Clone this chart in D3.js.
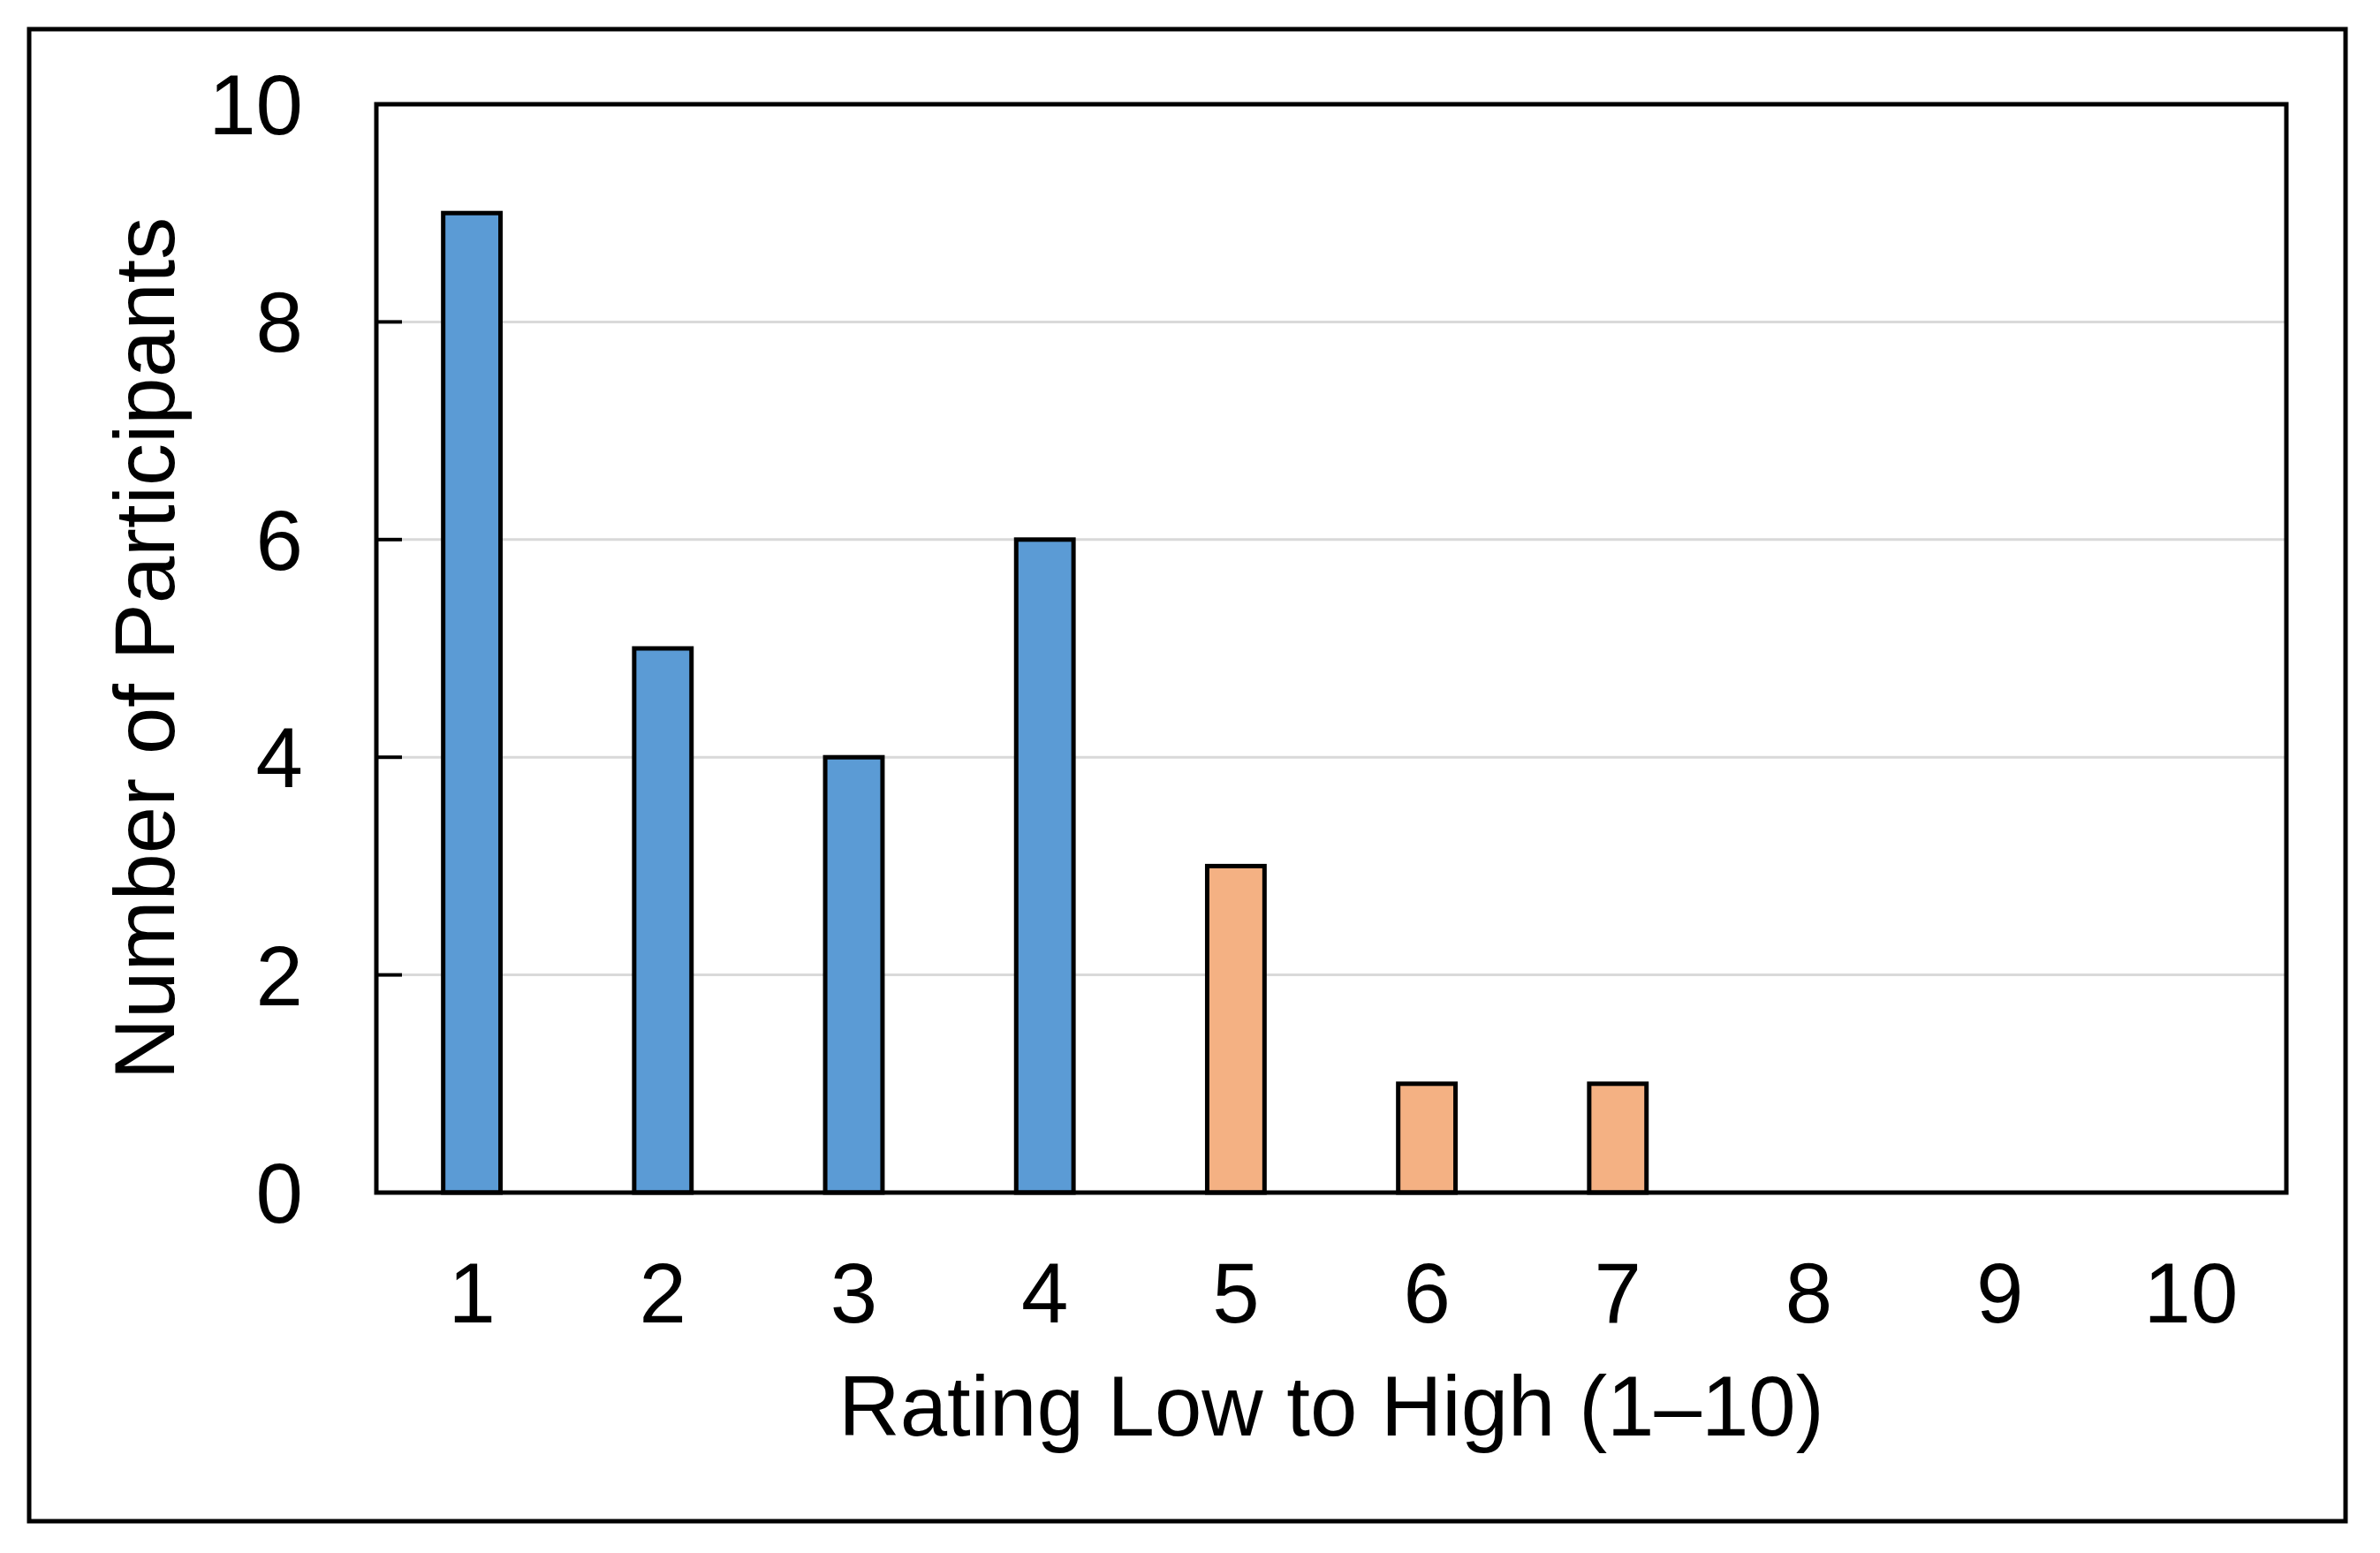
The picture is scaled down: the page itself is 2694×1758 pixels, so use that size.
<!DOCTYPE html>
<html>
<head>
<meta charset="utf-8">
<script src="https://cdn.jsdelivr.net/npm/d3@7"></script>
<style>
  html, body { margin: 0; padding: 0; background: #ffffff; }
  svg { display: block; }
  text { font-family: "Liberation Sans", Arial, sans-serif; fill: #000; }
</style>
</head>
<body>
<script>
// ---- Data ----
const categories = ["1", "2", "3", "4", "5", "6", "7", "8", "9", "10"];
const counts = [9, 5, 4, 6, 3, 1, 1, 0, 0, 0];
const groups = ["low", "low", "low", "low", "high", "high", "high", "high", "high", "high"];
const yTicks = [0, 2, 4, 6, 8, 10];
const xTitle = "Rating Low to High (1–10)";
const yTitle = "Number of Participants";

// ---- Layout ----
const W = 2694, H = 1758;
const plot = { left: 426, right: 2588, top: 118, bottom: 1350 };
const colors = { low: "#5B9BD5", high: "#F4B183" };
const fontSize = 96;

const svg = d3.select("body").append("svg").attr("width", W).attr("height", H);
svg.append("rect").attr("width", W).attr("height", H).attr("fill", "#fff");

// outer border
svg.append("rect")
  .attr("x", 33).attr("y", 33).attr("width", 2655 - 33).attr("height", 1722 - 33)
  .attr("fill", "none").attr("stroke", "#000").attr("stroke-width", 5);

const x = d3.scaleBand().domain(categories)
  .range([plot.left, plot.right]).paddingInner(0.70).paddingOuter(0.35);
const y = d3.scaleLinear().domain([0, 10]).range([plot.bottom, plot.top]);

// gridlines
svg.append("g").selectAll("line").data(yTicks.filter(d => d > 0 && d < 10)).join("line")
  .attr("x1", plot.left).attr("x2", plot.right)
  .attr("y1", d => y(d)).attr("y2", d => y(d))
  .attr("stroke", "#d9d9d9").attr("stroke-width", 3);

// y tick marks (inward)
svg.append("g").selectAll("line").data(yTicks.filter(d => d > 0 && d < 10)).join("line")
  .attr("x1", plot.left).attr("x2", plot.left + 29)
  .attr("y1", d => y(d)).attr("y2", d => y(d))
  .attr("stroke", "#000").attr("stroke-width", 4);

// bars
svg.append("g").selectAll("rect").data(categories).join("rect")
  .attr("x", (d) => x(d))
  .attr("width", x.bandwidth())
  .attr("y", (d, i) => y(counts[i]))
  .attr("height", (d, i) => y(0) - y(counts[i]))
  .attr("fill", (d, i) => colors[groups[i]])
  .attr("stroke", "#000").attr("stroke-width", 5)
  .attr("display", (d, i) => counts[i] > 0 ? null : "none");

// plot frame
svg.append("rect")
  .attr("x", plot.left).attr("y", plot.top)
  .attr("width", plot.right - plot.left).attr("height", plot.bottom - plot.top)
  .attr("fill", "none").attr("stroke", "#000").attr("stroke-width", 5);

// y tick labels
svg.append("g").selectAll("text").data(yTicks).join("text")
  .attr("x", 343).attr("y", d => y(d) + 34)
  .attr("text-anchor", "end").attr("font-size", fontSize)
  .text(d => d);

// x tick labels
svg.append("g").selectAll("text").data(categories).join("text")
  .attr("x", d => x(d) + x.bandwidth() / 2).attr("y", 1497)
  .attr("text-anchor", "middle").attr("font-size", fontSize)
  .text(d => d);

// axis titles
svg.append("text")
  .attr("x", (plot.left + plot.right) / 2).attr("y", 1625)
  .attr("text-anchor", "middle").attr("font-size", fontSize)
  .text(xTitle);

svg.append("text")
  .attr("transform", `translate(197, ${(plot.top + plot.bottom) / 2}) rotate(-90)`)
  .attr("text-anchor", "middle").attr("font-size", fontSize)
  .text(yTitle);
</script>
</body>
</html>
